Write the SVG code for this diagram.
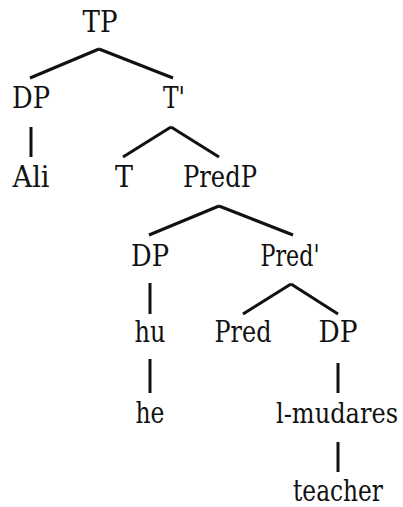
<svg xmlns="http://www.w3.org/2000/svg" width="403" height="507" viewBox="0 0 403 507">
<style>
line{stroke:#111;stroke-width:3;stroke-linecap:butt}
text{font-family:"DejaVu Serif Condensed","DejaVu Serif",serif;font-stretch:condensed;font-size:29px;fill:#111;text-anchor:middle}
</style>
<rect width="403" height="507" fill="#fff"/>
<g id="connectors">
<line x1="99" y1="49" x2="30" y2="78"/>
<line x1="99" y1="49" x2="173" y2="78"/>
<line x1="31" y1="127" x2="31" y2="157"/>
<line x1="171" y1="127" x2="123" y2="157"/>
<line x1="171" y1="127" x2="219" y2="157"/>
<line x1="219" y1="206" x2="149" y2="235"/>
<line x1="219" y1="206" x2="293" y2="235"/>
<line x1="150" y1="283" x2="150" y2="314"/>
<line x1="291" y1="284" x2="243" y2="314"/>
<line x1="291" y1="284" x2="338" y2="314"/>
<line x1="150" y1="359" x2="150" y2="393"/>
<line x1="338" y1="363" x2="338" y2="393"/>
<line x1="338" y1="442" x2="338" y2="472"/>
</g>
<g id="TP"><text x="100" y="32" textLength="35" lengthAdjust="spacingAndGlyphs">TP</text></g>
<g id="DP1"><text x="31" y="108" textLength="38" lengthAdjust="spacingAndGlyphs">DP</text></g>
<g id="Tbar"><text x="174" y="108" textLength="22" lengthAdjust="spacingAndGlyphs">T'</text></g>
<g id="Ali"><text x="31" y="187" textLength="37" lengthAdjust="spacingAndGlyphs">Ali</text></g>
<g id="T"><text x="124" y="187" textLength="18" lengthAdjust="spacingAndGlyphs">T</text></g>
<g id="PredP"><text x="220" y="187" textLength="74" lengthAdjust="spacingAndGlyphs">PredP</text></g>
<g id="DP2"><text x="150" y="266" textLength="38" lengthAdjust="spacingAndGlyphs">DP</text></g>
<g id="Predbar"><text x="290" y="266" textLength="59" lengthAdjust="spacingAndGlyphs">Pred'</text></g>
<g id="hu"><text x="150" y="342" textLength="31" lengthAdjust="spacingAndGlyphs">hu</text></g>
<g id="Pred"><text x="243" y="342" textLength="57" lengthAdjust="spacingAndGlyphs">Pred</text></g>
<g id="DP3"><text x="338" y="342" textLength="39" lengthAdjust="spacingAndGlyphs">DP</text></g>
<g id="he"><text x="150" y="423" textLength="29" lengthAdjust="spacingAndGlyphs">he</text></g>
<g id="lmudares"><text x="337" y="423" style="font-size:27px" textLength="122" lengthAdjust="spacingAndGlyphs">l-mudares</text></g>
<g id="teacher"><text x="338" y="501" textLength="90" lengthAdjust="spacingAndGlyphs">teacher</text></g>
</svg>
